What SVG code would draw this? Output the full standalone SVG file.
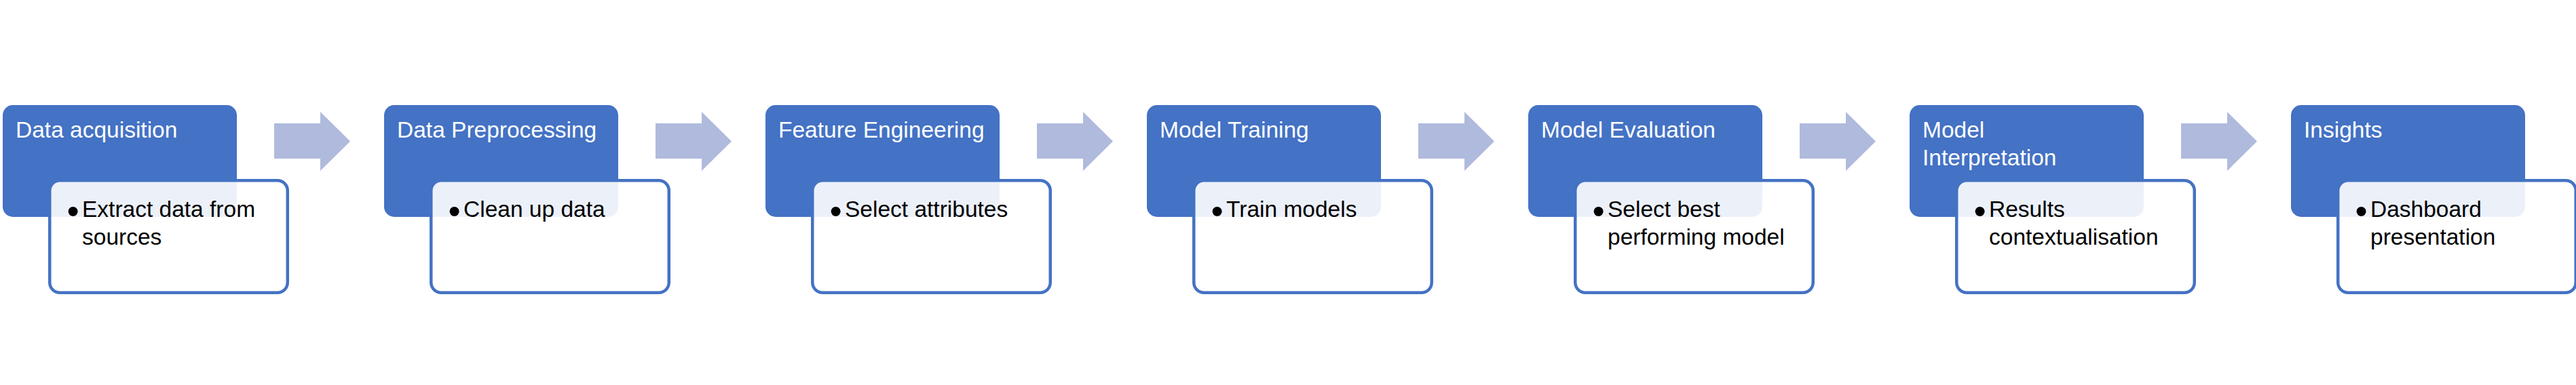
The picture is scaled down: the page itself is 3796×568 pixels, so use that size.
<svg xmlns="http://www.w3.org/2000/svg" width="3796" height="568" viewBox="0 0 3796 568">
<style>
.bg{fill:#ffffff}
.head{fill:#4472C4}
.card{fill:#ffffff;fill-opacity:0.9;stroke:#4472C4;stroke-width:4.5}
.title{font-family:"Liberation Sans",Arial,sans-serif;font-size:33.5px;fill:#ffffff}
.item{font-family:"Liberation Sans",Arial,sans-serif;font-size:33.5px;fill:#000000}
.bullet{font-family:"Liberation Sans",Arial,sans-serif;font-size:52px;fill:#000000}
.arrow{fill:#AFBADD}
</style>
<rect class="bg" x="0" y="0" width="3796" height="568"/>
<g id="connectors">
<polygon class="arrow" points="404,182 472,182 472,165 516,208.5 472,252 472,234 404,234"/>
<polygon class="arrow" points="966,182 1034,182 1034,165 1078,208.5 1034,252 1034,234 966,234"/>
<polygon class="arrow" points="1528,182 1596,182 1596,165 1640,208.5 1596,252 1596,234 1528,234"/>
<polygon class="arrow" points="2090,182 2158,182 2158,165 2202,208.5 2158,252 2158,234 2090,234"/>
<polygon class="arrow" points="2652,182 2720,182 2720,165 2764,208.5 2720,252 2720,234 2652,234"/>
<polygon class="arrow" points="3214,182 3282,182 3282,165 3326,208.5 3282,252 3282,234 3214,234"/>
</g>
<g id="node1">
<rect class="head" x="4" y="155" width="345" height="165" rx="15"/>
<text class="title" x="23" y="203">Data acquisition</text>
<rect class="card" x="73.25" y="266.25" width="350.5" height="165.5" rx="15"/>
<text class="bullet" x="107.5" y="329" text-anchor="middle">•</text>
<text class="item" x="121" y="320">Extract data from</text>
<text class="item" x="121" y="361">sources</text>
</g>
<g id="node2">
<rect class="head" x="566" y="155" width="345" height="165" rx="15"/>
<text class="title" x="585" y="203">Data Preprocessing</text>
<rect class="card" x="635.25" y="266.25" width="350.5" height="165.5" rx="15"/>
<text class="bullet" x="669.5" y="329" text-anchor="middle">•</text>
<text class="item" x="683" y="320">Clean up data</text>
</g>
<g id="node3">
<rect class="head" x="1128" y="155" width="345" height="165" rx="15"/>
<text class="title" x="1147" y="203">Feature Engineering</text>
<rect class="card" x="1197.25" y="266.25" width="350.5" height="165.5" rx="15"/>
<text class="bullet" x="1231.5" y="329" text-anchor="middle">•</text>
<text class="item" x="1245" y="320">Select attributes</text>
</g>
<g id="node4">
<rect class="head" x="1690" y="155" width="345" height="165" rx="15"/>
<text class="title" x="1709" y="203">Model Training</text>
<rect class="card" x="1759.25" y="266.25" width="350.5" height="165.5" rx="15"/>
<text class="bullet" x="1793.5" y="329" text-anchor="middle">•</text>
<text class="item" x="1807" y="320">Train models</text>
</g>
<g id="node5">
<rect class="head" x="2252" y="155" width="345" height="165" rx="15"/>
<text class="title" x="2271" y="203">Model Evaluation</text>
<rect class="card" x="2321.25" y="266.25" width="350.5" height="165.5" rx="15"/>
<text class="bullet" x="2355.5" y="329" text-anchor="middle">•</text>
<text class="item" x="2369" y="320">Select best</text>
<text class="item" x="2369" y="361">performing model</text>
</g>
<g id="node6">
<rect class="head" x="2814" y="155" width="345" height="165" rx="15"/>
<text class="title" x="2833" y="203">Model</text>
<text class="title" x="2833" y="244">Interpretation</text>
<rect class="card" x="2883.25" y="266.25" width="350.5" height="165.5" rx="15"/>
<text class="bullet" x="2917.5" y="329" text-anchor="middle">•</text>
<text class="item" x="2931" y="320">Results</text>
<text class="item" x="2931" y="361">contextualisation</text>
</g>
<g id="node7">
<rect class="head" x="3376" y="155" width="345" height="165" rx="15"/>
<text class="title" x="3395" y="203">Insights</text>
<rect class="card" x="3445.25" y="266.25" width="350.5" height="165.5" rx="15"/>
<text class="bullet" x="3479.5" y="329" text-anchor="middle">•</text>
<text class="item" x="3493" y="320">Dashboard</text>
<text class="item" x="3493" y="361">presentation</text>
</g>
</svg>
